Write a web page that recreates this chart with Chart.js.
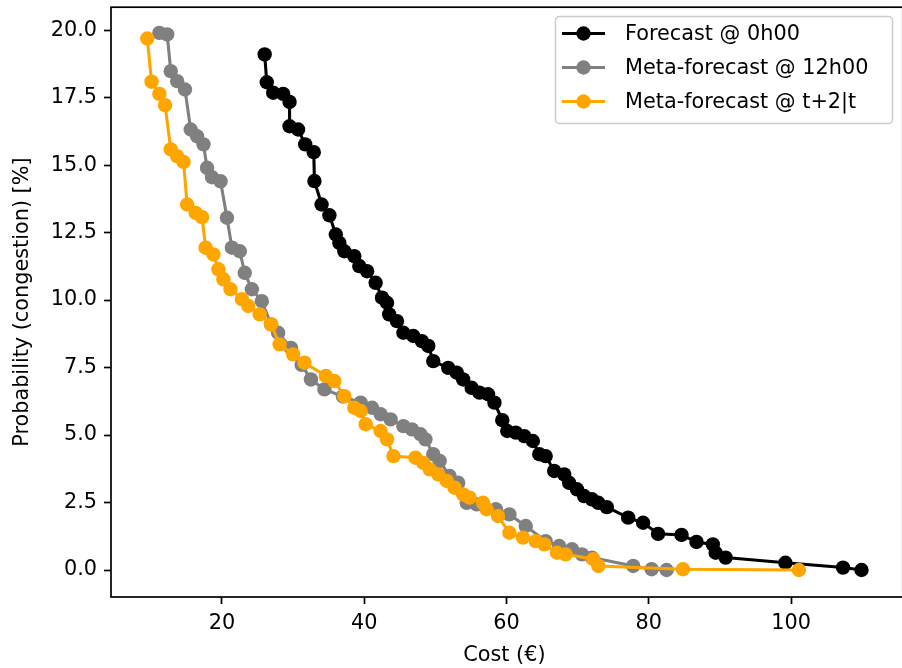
<!DOCTYPE html>
<html>
<head>
<meta charset="utf-8">
<script src="https://cdn.jsdelivr.net/npm/chart.js@4.4.1/dist/chart.umd.min.js"></script>
<style>
  html, body { margin: 0; padding: 0; overflow: hidden; background: #fff; }
  #wrap { width: 905px; height: 668px; }
</style>
</head>
<body>
<div id="wrap"><canvas id="costChart"></canvas></div>
<script>
// series labels
const seriesNames = ['Forecast @ 0h00', 'Meta-forecast @ 12h00', 'Meta-forecast @ t+2|t'];

// Forecast @ 0h00
const costForecast = [26.0, 26.3, 27.2, 28.6, 29.5, 29.5, 30.7, 31.7, 32.9, 33.0, 34.0, 35.1, 36.0, 36.5, 37.2, 38.6,
    39.3, 40.4, 41.6, 42.5, 43.2, 43.5, 44.6, 45.5, 46.9, 48.1, 49.0, 49.7, 51.8, 53.0, 53.9, 55.1, 56.2, 57.4, 58.3,
    59.4, 60.1, 61.3, 62.5, 63.7, 64.6, 65.5, 66.7, 68.1, 68.8, 69.9, 70.9, 72.0, 72.9, 74.1, 77.1, 79.2, 81.3, 84.6,
    86.7, 89.0, 89.4, 90.8, 99.2, 107.3, 109.9];
const probForecast = [19.1, 18.07, 17.68, 17.64, 17.34, 16.44, 16.32, 15.77, 15.48, 14.41, 13.54, 13.14, 12.43, 12.12,
    11.81, 11.63, 11.26, 11.07, 10.64, 10.09, 9.9, 9.47, 9.22, 8.79, 8.67, 8.48, 8.3, 7.74, 7.49, 7.31, 7.06, 6.75, 6.57,
    6.51, 6.2, 5.55, 5.15, 5.09, 4.96, 4.78, 4.29, 4.22, 3.67, 3.54, 3.23, 2.99, 2.74, 2.62, 2.49, 2.33, 1.94, 1.75, 1.34,
    1.3, 1.04, 0.95, 0.64, 0.46, 0.27, 0.09, 0.0];

// Meta-forecast @ 12h00
const costMeta12 = [11.2, 12.3, 12.8, 13.7, 14.8, 15.6, 16.5, 17.4, 17.9, 18.6, 19.8, 20.7, 21.4, 22.5, 23.2, 24.2, 25.6,
    26.9, 27.9, 29.7, 31.2, 32.5, 34.4, 37.0, 39.5, 41.1, 42.3, 43.7, 45.5, 46.7, 47.9, 48.6, 49.7, 50.6, 52.0, 53.2,
    54.4, 55.8, 58.5, 60.4, 62.7, 65.5, 67.4, 69.2, 70.6, 72.0, 77.8, 80.4, 82.5];
const probMeta12 = [19.9, 19.84, 18.48, 18.11, 17.8, 16.32, 16.07, 15.77, 14.9, 14.55, 14.4, 13.05, 11.94, 11.81, 11.01,
    10.4, 9.96, 9.1, 8.79, 8.23, 7.6, 7.06, 6.69, 6.43, 6.2, 6.01, 5.77, 5.58, 5.33, 5.21, 5.03, 4.84, 4.29, 4.04, 3.48,
    3.23, 2.49, 2.43, 2.25, 2.06, 1.63, 1.07, 0.89, 0.77, 0.58, 0.46, 0.15, 0.03, 0.0];

// Meta-forecast @ t+2|t
const costMetaT2 = [9.5, 10.1, 11.2, 12.0, 12.8, 13.7, 14.6, 15.1, 16.3, 17.2, 17.7, 18.8, 19.5, 20.2, 21.2, 22.8, 23.7,
    25.3, 26.9, 28.1, 30.0, 31.6, 34.6, 35.8, 37.2, 38.6, 39.5, 40.2, 42.3, 43.2, 44.1, 47.2, 48.3, 49.2, 50.4, 51.6,
    52.7, 53.9, 54.8, 56.7, 57.2, 58.8, 60.4, 62.3, 64.1, 65.3, 67.1, 68.3, 72.2, 72.9, 84.8, 101.1];
const probMetaT2 = [19.69, 18.09, 17.64, 17.22, 15.58, 15.33, 15.12, 13.54, 13.23, 13.07, 11.94, 11.69, 11.14, 10.77,
    10.4, 10.03, 9.78, 9.47, 9.1, 8.36, 7.99, 7.68, 7.19, 7.0, 6.44, 6.01, 5.89, 5.4, 5.15, 4.84, 4.22, 4.16, 3.97, 3.73,
    3.54, 3.3, 3.05, 2.8, 2.68, 2.49, 2.25, 2.0, 1.38, 1.2, 1.07, 0.95, 0.64, 0.58, 0.4, 0.15, 0.03, 0.0];

// tick labels
const xTicks = [20, 40, 60, 80, 100];
const yTicks = [0, 2.5, 5, 7.5, 10, 12.5, 15, 17.5, 20];

const FONT = 'DejaVu Sans';
const FS = 20.8;
const colors = ['#000000', '#808080', '#ffa500'];

function toPoints(xs, ys) {
    return xs.map((x, i) => ({ x: x, y: ys[i] }));
}

// box round the axes, matplotlib style
const framePlugin = {
    id: 'frame',
    afterDatasetsDraw(chart) {
        const a = chart.chartArea;
        const ctx = chart.ctx;
        ctx.save();
        ctx.strokeStyle = '#000';
        ctx.lineWidth = 1.7;
        ctx.strokeRect(a.left, a.top, a.right - a.left + 5, a.bottom - a.top);
        ctx.restore();
    }
};

// legend box inside the axes, top right
const legendPlugin = {
    id: 'boxLegend',
    afterDraw(chart) {
        const ctx = chart.ctx;
        ctx.save();
        ctx.fillStyle = 'rgba(255,255,255,0.8)';
        ctx.strokeStyle = '#cccccc';
        ctx.lineWidth = 1.5;
        ctx.beginPath();
        ctx.roundRect(555.5, 16.5, 337, 107, 4);
        ctx.fill();
        ctx.stroke();
        ctx.font = FS + 'px "' + FONT + '"';
        ctx.textBaseline = 'middle';
        ctx.textAlign = 'left';
        chart.data.datasets.forEach((ds, i) => {
            const y = 33.5 + i * 34;
            ctx.strokeStyle = ds.borderColor;
            ctx.lineWidth = 3.1;
            ctx.beginPath();
            ctx.moveTo(562, y);
            ctx.lineTo(605, y);
            ctx.stroke();
            ctx.fillStyle = ds.borderColor;
            ctx.beginPath();
            ctx.arc(583.5, y, 7.2, 0, Math.PI * 2);
            ctx.fill();
            ctx.fillStyle = '#000';
            ctx.fillText(ds.label, 625, y + 1);
        });
        ctx.restore();
    }
};

const series = [
    [costForecast, probForecast],
    [costMeta12, probMeta12],
    [costMetaT2, probMetaT2]
];

const ctx = document.getElementById('costChart').getContext('2d');
const costChart = new Chart(ctx, {
    type: 'scatter',
    data: {
        datasets: series.map((s, i) => ({
            label: seriesNames[i],
            data: toPoints(s[0], s[1]),
            showLine: true,
            borderColor: colors[i],
            backgroundColor: colors[i],
            borderWidth: 3.1,
            pointRadius: 7.2,
            pointBorderWidth: 0,
            pointHoverRadius: 7.2,
            order: 2 - i
        }))
    },
    options: {
        responsive: true,
        maintainAspectRatio: false,
        animation: false,
        layout: { padding: { top: 6, right: 0, bottom: 0, left: 0 } },
        plugins: {
            legend: { display: false },
            tooltip: { enabled: false }
        },
        scales: {
            x: {
                type: 'linear',
                min: 4.4,
                max: 115,
                afterFit: axis => {
                    axis.height = 71;
                    axis.paddingLeft = 0;
                    axis.paddingRight = 0;
                },
                afterBuildTicks: axis => { axis.ticks = xTicks.map(v => ({ value: v })); },
                border: { display: false },
                grid: {
                    drawOnChartArea: false,
                    drawTicks: true,
                    tickLength: 7,
                    tickColor: '#000',
                    tickWidth: 1.7
                },
                ticks: {
                    padding: 7,
                    color: '#000',
                    maxRotation: 0,
                    font: { family: FONT, size: FS },
                    callback: v => String(v)
                },
                title: {
                    display: true,
                    text: 'Cost (€)',
                    color: '#000',
                    font: { family: FONT, size: FS },
                    padding: { top: 0, bottom: 0 }
                }
            },
            y: {
                type: 'linear',
                min: -1.0,
                max: 20.85,
                afterFit: axis => {
                    axis.width = 111;
                    axis.paddingTop = 0;
                    axis.paddingBottom = 0;
                },
                afterBuildTicks: axis => { axis.ticks = yTicks.map(v => ({ value: v })); },
                border: { display: false },
                grid: {
                    drawOnChartArea: false,
                    drawTicks: true,
                    tickLength: 7,
                    tickColor: '#000',
                    tickWidth: 1.7
                },
                ticks: {
                    padding: 7,
                    color: '#000',
                    font: { family: FONT, size: FS },
                    callback: v => v.toFixed(1)
                },
                title: {
                    display: true,
                    text: 'Probability (congestion) [%]',
                    color: '#000',
                    font: { family: FONT, size: FS },
                    padding: { top: 10, bottom: 0 }
                }
            }
        }
    },
    plugins: [framePlugin, legendPlugin]
});
</script>
</body>
</html>
